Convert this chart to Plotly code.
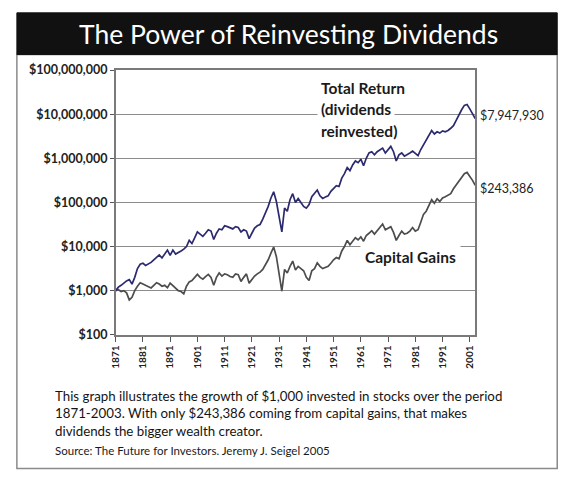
import math
import plotly.graph_objects as go

W, H = 576, 494

years = list(range(1871, 2004))

total_return = [
    1000, 1200, 1320, 1510, 1660, 1780, 1410, 2000, 3160, 3980,          # 1871-1880
    4170, 3720, 3980, 4370, 5010, 5750, 6460, 5500, 6610, 8320,          # 1881-1890
    6310, 8320, 6760, 7240, 7940, 8710, 10000, 13800, 11700, 15800,      # 1891-1900
    21400, 19100, 17000, 20000, 24000, 22400, 14500, 20000, 25100, 24000,  # 1901-1910
    29500, 28200, 26300, 25100, 28200, 26900, 21400, 24000, 22400, 15100,  # 1911-1920
    20000, 26300, 29500, 31600, 41700, 56200, 81300, 126000, 174000, 105000,  # 1921-1930
    50100, 21400, 74100, 63100, 115000, 158000, 100000, 123000, 100000, 81300,  # 1931-1940
    74100, 89100, 135000, 158000, 191000, 141000, 123000, 132000, 141000, 178000,  # 1941-1950
    204000, 240000, 229000, 355000, 447000, 617000, 525000, 708000, 871000, 794000,  # 1951-1960
    955000, 676000, 1000000, 1320000, 1410000, 1200000, 1410000, 1580000, 1700000, 1320000,  # 1961-1970
    1580000, 1860000, 1410000, 871000, 1200000, 1320000, 1120000, 1200000, 1320000, 1450000,  # 1971-1980
    1260000, 1150000, 1580000, 2000000, 2510000, 3310000, 4270000, 3550000, 3980000, 3720000,  # 1981-1990
    4170000, 3980000, 4270000, 4790000, 5500000, 7240000, 10000000, 12600000, 15800000, 16600000,  # 1991-2000
    13200000, 10000000, 7947930,                                          # 2001-2003
]

capital_gains = [
    1000, 1050, 955, 1000, 891, 617, 708, 1000, 1260, 1510,              # 1871-1880
    1410, 1320, 1200, 1150, 1320, 1510, 1410, 1260, 1320, 1170,          # 1881-1890
    1480, 1320, 1150, 1000, 955, 851, 1260, 1580, 1700, 2000,            # 1891-1900
    2340, 2000, 1820, 2090, 2340, 2000, 1320, 2000, 2510, 2140,          # 1901-1910
    2400, 2290, 2090, 2000, 2400, 2290, 1620, 2000, 2400, 1480,          # 1911-1920
    1780, 2140, 2400, 2630, 3020, 3800, 5010, 7080, 9770, 5890,          # 1921-1930
    2510, 977, 3020, 2510, 3550, 4680, 2950, 3550, 3160, 2820,           # 1931-1940
    2000, 1700, 2820, 3160, 4270, 3550, 3160, 3310, 3550, 4170,          # 1941-1950
    5010, 5620, 5250, 7940, 10000, 13800, 11000, 13200, 15800, 14100,    # 1951-1960
    16600, 13200, 17800, 20000, 22900, 19100, 22400, 26300, 32400, 24000,  # 1961-1970
    26300, 28200, 20900, 13800, 17800, 22400, 19100, 20000, 22400, 26900,  # 1971-1980
    22400, 24000, 35500, 53700, 63100, 83200, 115000, 95500, 120000, 105000,  # 1981-1990
    126000, 135000, 145000, 158000, 204000, 251000, 316000, 380000, 447000, 479000,  # 1991-2000
    398000, 316000, 243386,                                               # 2001-2003
]

y_tick_vals = [100, 1000, 10000, 100000, 1000000, 10000000, 100000000]
y_tick_text = ["$100", "$1,000", "$10,000", "$100,000", "$1,000,000",
               "$10,000,000", "$100,000,000"]
x_tick_vals = list(range(1871, 2002, 10))

title_text = "The Power of Reinvesting Dividends"
caption_lines = [
    "This graph illustrates the growth of $1,000 invested in stocks over the period",
    "1871-2003. With only $243,386 coming from capital gains, that makes",
    "dividends the bigger wealth creator.",
]
source_text = "Source: The Future for Investors. Jeremy J. Seigel 2005"

FONT = "Lato"


def px(x):
    return x / W


def py(y):
    return 1 - y / H


fig = go.Figure()
fig.add_trace(go.Scatter(x=years, y=capital_gains, mode="lines",
                         line=dict(color="#4d4d4d", width=1.7),
                         name="Capital Gains", showlegend=False))
fig.add_trace(go.Scatter(x=years, y=total_return, mode="lines",
                         line=dict(color="#2c2a6e", width=1.7),
                         name="Total Return", showlegend=False))

annotations = [
    dict(x=px(285), y=py(27), xref="paper", yref="paper", text=title_text,
         showarrow=False, xanchor="center", yanchor="middle",
         font=dict(family=FONT, size=26.5, color="white")),
]
for i, t in enumerate(["Total Return", "(dividends", "reinvested)"]):
    annotations.append(dict(
        x=px(314), y=py(82 + 22.5 * i), xref="paper", yref="paper", text=t,
        showarrow=False, xanchor="left", yanchor="middle", bgcolor="white",
        borderpad=3,
        font=dict(family=FONT, size=15.5, color="#1a1a1a", weight="bold")))
annotations.append(dict(
    x=px(357), y=py(257), xref="paper", yref="paper", text="Capital Gains",
    showarrow=False, xanchor="left", yanchor="middle", bgcolor="white",
    borderpad=4,
    font=dict(family=FONT, size=15.5, color="#1a1a1a", weight="bold")))
annotations.append(dict(
    x=years[-1], y=math.log10(total_return[-1]), xref="x", yref="y",
    text=f"${total_return[-1]:,.0f}", showarrow=False, xanchor="left",
    yanchor="middle", xshift=3, yshift=3,
    font=dict(family=FONT, size=12.5, color="#222")))
annotations.append(dict(
    x=years[-1], y=math.log10(capital_gains[-1]), xref="x", yref="y",
    text=f"${capital_gains[-1]:,.0f}", showarrow=False, xanchor="left",
    yanchor="middle", xshift=3, yshift=-3,
    font=dict(family=FONT, size=12.5, color="#222")))
for i, t in enumerate(caption_lines):
    annotations.append(dict(
        x=px(47), y=py(400 + 18 * i), xref="paper", yref="paper", text=t,
        showarrow=False, xanchor="left", yanchor="middle",
        font=dict(family=FONT, size=13.3, color="#141414")))
annotations.append(dict(
    x=px(47), y=py(456), xref="paper", yref="paper", text=source_text,
    showarrow=False, xanchor="left", yanchor="middle",
    font=dict(family=FONT, size=11.5, color="#1a1a1a")))

shapes = [
    dict(type="rect", xref="paper", yref="paper",
         x0=px(10), x1=px(557), y0=py(475), y1=py(48),
         line=dict(color="#8a8a8a", width=1.5), fillcolor="rgba(0,0,0,0)",
         layer="below"),
    dict(type="rect", xref="paper", yref="paper",
         x0=px(10), x1=px(557), y0=py(48), y1=py(5),
         line=dict(color="#111", width=1), fillcolor="#111111",
         layer="below"),
]

fig.update_layout(
    width=W, height=H,
    margin=dict(l=0, r=0, t=0, b=0),
    paper_bgcolor="white", plot_bgcolor="white",
    annotations=annotations, shapes=shapes,
    xaxis=dict(
        domain=[px(110), px(474)], range=[1871, 2003],
        tickvals=x_tick_vals, tickangle=-90, ticks="outside", ticklen=5,
        tickcolor="#555", showgrid=False, zeroline=False,
        showline=True, mirror=True, linecolor="#7a7a7a", linewidth=1.5,
        tickfont=dict(family=FONT, size=10, color="#222", weight="bold"),
    ),
    yaxis=dict(
        domain=[py(337), py(64)], type="log", range=[2, 8],
        tickvals=y_tick_vals, ticktext=y_tick_text,
        ticks="outside", ticklen=4, tickcolor="#555",
        showgrid=True, gridcolor="#8c8c8c", gridwidth=1, zeroline=False,
        showline=True, mirror=True, linecolor="#7a7a7a", linewidth=1.5,
        tickfont=dict(family=FONT, size=12.5, color="#222", weight="bold"),
    ),
)

fig.write_html("out.html", config={"displayModeBar": False},
               post_script="document.body.style.margin='0px';")
